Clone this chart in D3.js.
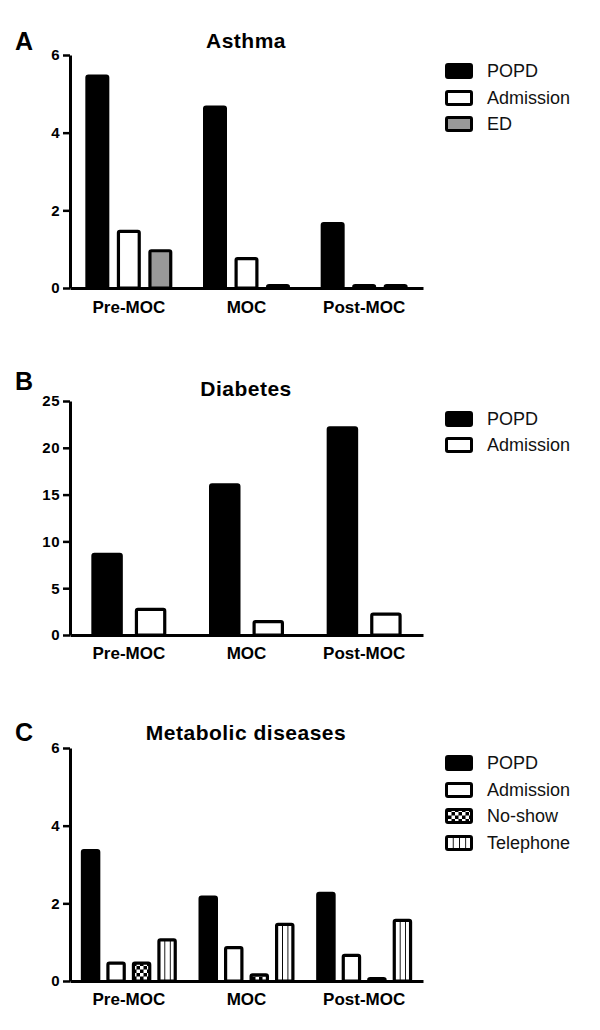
<!DOCTYPE html>
<html><head><meta charset="utf-8">
<script src="https://cdn.jsdelivr.net/npm/d3@7"></script>
<style>
html,body{margin:0;padding:0;background:#fff;}
svg{display:block;}
</style>
</head><body>
<svg id="chart" width="600" height="1030"></svg>
<script>
// ---- data ----
const categories = ["Pre-MOC", "MOC", "Post-MOC"];

const asthmaSeries = ["POPD", "Admission", "ED"];
const asthmaPOPD = [5.5, 4.7, 1.7];
const asthmaAdmission = [1.5, 0.8, 0.1];
const asthmaED = [1.0, 0.1, 0.1];
const asthmaTicks = [0, 2, 4, 6];

const diabetesSeries = ["POPD", "Admission"];
const diabetesPOPD = [8.8, 16.2, 22.3];
const diabetesAdmission = [2.9, 1.6, 2.4];
const diabetesTicks = [0, 5, 10, 15, 20, 25];

const metabolicSeries = ["POPD", "Admission", "No-show", "Telephone"];
const metabolicPOPD = [3.4, 2.2, 2.3];
const metabolicAdmission = [0.5, 0.9, 0.7];
const metabolicNoShow = [0.5, 0.2, 0.1];
const metabolicTelephone = [1.1, 1.5, 1.6];
const metabolicTicks = [0, 2, 4, 6];

// ---- styles ----
const FONT = "Arial, 'Liberation Sans', Helvetica, sans-serif";
const fills = {
  "POPD": "#000",
  "Admission": "#fff",
  "ED": "#999",
  "No-show": "url(#checker)",
  "Telephone": "url(#stripes)"
};

const svg = d3.select("#chart");
const defs = svg.append("defs");
// checkerboard
const ck = defs.append("pattern").attr("id", "checker")
  .attr("patternUnits", "userSpaceOnUse").attr("width", 7).attr("height", 7);
ck.append("rect").attr("width", 7).attr("height", 7).attr("fill", "#000");
ck.append("rect").attr("x", 0).attr("y", 0).attr("width", 3.5).attr("height", 3.5).attr("fill", "#fff");
ck.append("rect").attr("x", 3.5).attr("y", 3.5).attr("width", 3.5).attr("height", 3.5).attr("fill", "#fff");
// vertical stripes (bars: 3 columns)
const st = defs.append("pattern").attr("id", "stripes")
  .attr("patternUnits", "objectBoundingBox").attr("width", 1/3).attr("height", 1);
st.append("rect").attr("width", 100).attr("height", 400).attr("fill", "#fff");
st.append("rect").attr("x", -0.9).attr("width", 1.8).attr("height", 400).attr("fill", "#000");
const st2 = defs.append("pattern").attr("id", "stripesLegend")
  .attr("patternUnits", "objectBoundingBox").attr("width", 1/4).attr("height", 1);
st2.append("rect").attr("width", 100).attr("height", 100).attr("fill", "#fff");
st2.append("rect").attr("x", -0.9).attr("width", 1.8).attr("height", 100).attr("fill", "#000");

const panels = [
  { letter: "A", title: "Asthma", series: asthmaSeries,
    values: [asthmaPOPD, asthmaAdmission, asthmaED], ticks: asthmaTicks,
    max: 6, y0: 288, y1: 55, letterY: 50, titleY: 48, barW: 24, gap: 7.5,
    legendY: [71, 98, 124], labelY: 313 },
  { letter: "B", title: "Diabetes", series: diabetesSeries,
    values: [diabetesPOPD, diabetesAdmission], ticks: diabetesTicks,
    max: 25, y0: 635, y1: 401, letterY: 390, titleY: 396, barW: 31.5, gap: 12,
    legendY: [419, 445], labelY: 659 },
  { letter: "C", title: "Metabolic diseases", series: metabolicSeries,
    values: [metabolicPOPD, metabolicAdmission, metabolicNoShow, metabolicTelephone], ticks: metabolicTicks,
    max: 6, y0: 981, y1: 748, letterY: 741, titleY: 740, barW: 19.5, gap: 6,
    legendY: [763, 790, 816, 843], labelY: 1005 }
];

const axisX0 = 70, axisX1 = 423;
const xGroup = d3.scalePoint().domain(categories).range([axisX0, axisX1]).padding(0.5);

panels.forEach(p => {
  const g = svg.append("g");
  const y = d3.scaleLinear().domain([0, p.max]).range([p.y0, p.y1]);
  const n = p.series.length;
  const groupW = n * p.barW + (n - 1) * p.gap;
  const inner = d3.scaleBand().domain(p.series).range([-groupW / 2, groupW / 2])
    .paddingInner(p.gap / (p.barW + p.gap)).paddingOuter(0);

  // letter + title
  g.append("text").attr("x", 15).attr("y", p.letterY).text(p.letter)
    .attr("font-family", FONT).attr("font-weight", "bold").attr("font-size", 25);
  g.append("text").attr("x", 246).attr("y", p.titleY).attr("text-anchor", "middle").text(p.title)
    .attr("font-family", FONT).attr("font-weight", "bold").attr("font-size", 21)
    .attr("letter-spacing", 0.5);

  // bars
  const sw = 3.2;
  p.series.forEach((s, si) => {
    g.selectAll(null).data(p.values[si]).enter().append("rect")
      .attr("x", (d, i) => xGroup(categories[i]) + inner(s) + sw / 2)
      .attr("width", inner.bandwidth() - sw)
      .attr("y", d => y(d) + sw / 2)
      .attr("height", d => Math.max(0, y(0) - y(d) - sw / 2))
      .attr("rx", 1.5)
      .attr("fill", fills[s]).attr("stroke", "#000").attr("stroke-width", sw);
  });

  // y axis
  const yAxis = d3.axisLeft(y).tickValues(p.ticks).tickSize(7).tickSizeOuter(0).tickPadding(3)
    .tickFormat(d3.format("d"));
  const ya = g.append("g").attr("transform", `translate(${axisX0},0)`).call(yAxis);
  ya.select(".domain").attr("stroke-width", 3).attr("stroke", "#000");
  ya.selectAll(".tick line").attr("stroke-width", 2.5).attr("stroke", "#000");
  ya.selectAll(".tick text").attr("font-family", FONT).attr("font-weight", "bold")
    .attr("font-size", 15).attr("fill", "#000").attr("letter-spacing", 0.5);

  // x axis
  const xBand = d3.scaleBand().domain(categories).range([axisX0, axisX1]);
  const xAxis = d3.axisBottom(xBand).tickSize(0).tickSizeOuter(0).tickPadding(0);
  const xa = g.append("g").attr("transform", `translate(0,${p.y0})`).call(xAxis);
  xa.select(".domain").attr("stroke-width", 3).attr("stroke", "#000");
  xa.selectAll(".tick text").attr("y", p.labelY - p.y0).attr("dy", 0)
    .attr("font-family", FONT).attr("font-weight", "bold")
    .attr("font-size", 17).attr("fill", "#000");

  // legend
  const lg = g.append("g");
  p.series.forEach((s, si) => {
    const cy = p.legendY[si];
    lg.append("rect").attr("x", 446.5).attr("y", cy - 6.5).attr("width", 25).attr("height", 13)
      .attr("rx", 1.5)
      .attr("fill", s === "Telephone" ? "url(#stripesLegend)" : fills[s])
      .attr("stroke", "#000").attr("stroke-width", 3);
    lg.append("text").attr("x", 487).attr("y", cy).attr("dy", "0.35em").text(s)
      .attr("font-family", FONT).attr("font-size", 18).attr("fill", "#111");
  });
});
</script>
</body></html>
